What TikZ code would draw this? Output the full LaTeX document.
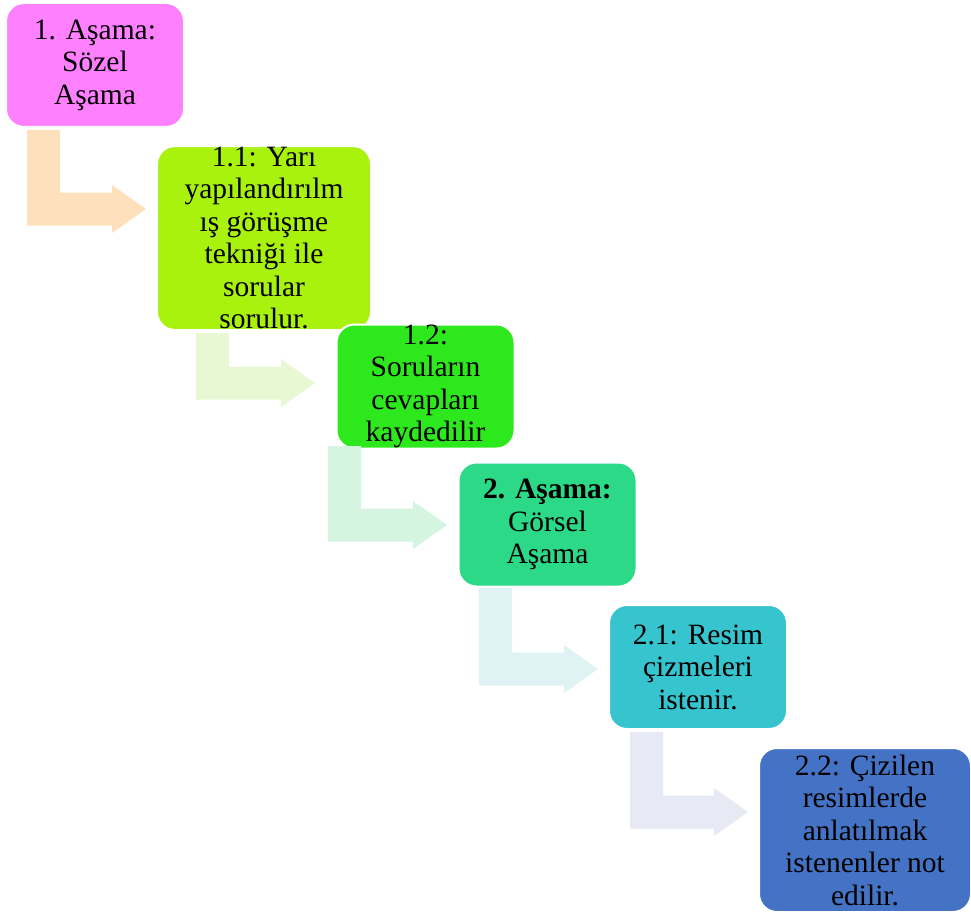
\documentclass[tikz,border=0pt]{standalone}
\usepackage{fontspec}
\setmainfont{Liberation Serif}
\usetikzlibrary{positioning,calc}

\definecolor{stageA}{HTML}{FF80FF}
\definecolor{stageB}{HTML}{A9F20E}
\definecolor{stageC}{HTML}{2EE81E}
\definecolor{stageD}{HTML}{2BD987}
\definecolor{stageE}{HTML}{36C5CF}
\definecolor{stageF}{HTML}{4472C4}
\definecolor{arrA}{HTML}{FFE0BD}
\definecolor{arrB}{HTML}{E7F8D2}
\definecolor{arrC}{HTML}{D5F5E0}
\definecolor{arrD}{HTML}{DFF3F5}
\definecolor{arrE}{HTML}{E7EAF4}

% bent arrow: top of the stem at #1, tip at #2
\newcommand\bentArrow[3]{%
  \fill[#3] (#1) -- ++(33,0) |- ($(#2)+(-34,-16.5)$) -- ++(0,-7.5) -- (#2)
    -- ++(-34,24) -- ++(0,-7.5) -| (#1) -- cycle;}

\begin{document}
\begin{tikzpicture}[x=1pt,y=-1pt,
    stage/.style={draw=white, line width=2pt, rounded corners=18pt, align=center,
      inner sep=0pt, minimum width=178pt, minimum height=124pt,
      font=\fontsize{29.5}{32.5}\selectfont}]
          \useasboundingbox (0,0) rectangle (971,915);

          \node[stage, fill=stageA] (A) at (95,65) {1. Aşama:\\Sözel\\Aşama};
          \coordinate (a1) at (27,130); \coordinate (t1) at (146,209);
          \bentArrow{a1}{t1}{arrA}

          \node[stage, fill=stageB, minimum width=214pt, minimum height=184pt] (A1) at (264,238)
            {1.1: Yarı\\yapılandırılm\\ış görüşme\\tekniği ile\\sorular\\sorulur.};
          \coordinate (a2) at (196,333); \coordinate (t2) at (315,383);
          \bentArrow{a2}{t2}{arrB}

          \node[stage, fill=stageC] (A2) at (425.5,386.5) {1.2:\\Soruların\\cevapları\\kaydedilir};
          \coordinate (a3) at (328,446); \coordinate (t3) at (447,525);
          \bentArrow{a3}{t3}{arrC}

          \node[stage, fill=stageD] (B) at (547.5,524.5) {\textbf{2. Aşama:}\\Görsel\\Aşama};
          \coordinate (a4) at (479,588); \coordinate (t4) at (598,669);
          \bentArrow{a4}{t4}{arrD}

          \node[stage, fill=stageE] (B1) at (698,667) {2.1: Resim\\çizmeleri\\istenir.};
          \coordinate (a5) at (630,732); \coordinate (t5) at (748,812);
          \bentArrow{a5}{t5}{arrE}

          \node[stage, fill=stageF, minimum width=212pt, minimum height=164pt] (B2) at (865,830)
            {2.2: Çizilen\\resimlerde\\anlatılmak\\istenenler not\\edilir.};
        \end{tikzpicture}
\end{document}
